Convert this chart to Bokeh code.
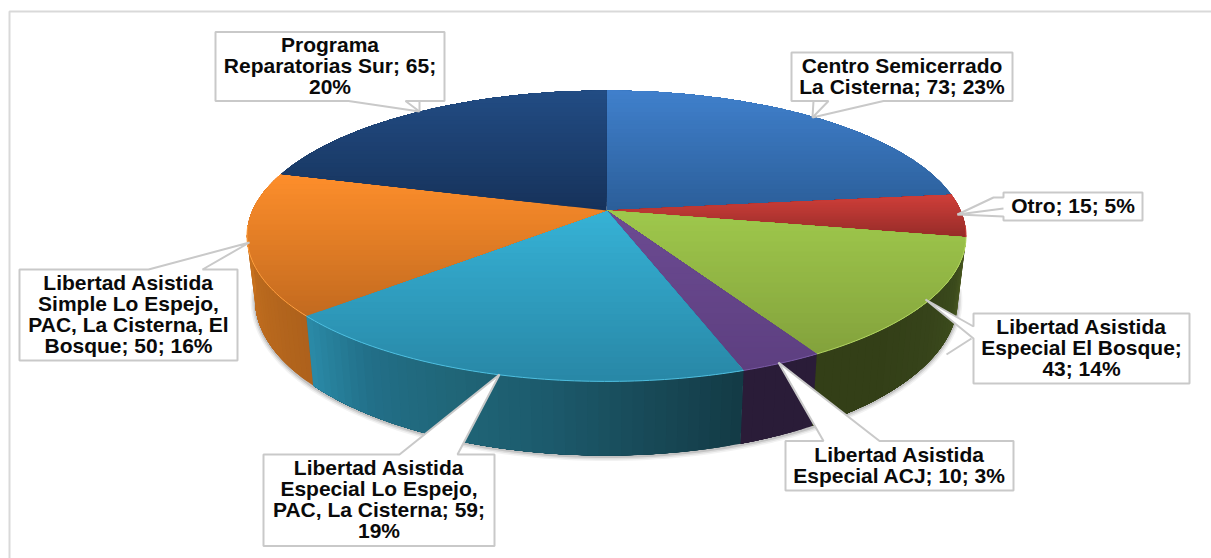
import math
from bokeh.plotting import figure
from bokeh.models import ColumnDataSource
from bokeh.core.properties import value
from bokeh.embed import file_html
from bokeh.resources import INLINE

# ---- data -------------------------------------------------------------
categories = ["Centro Semicerrado La Cisterna", "Otro", "Libertad Asistida Especial El Bosque",
              "Libertad Asistida Especial ACJ", "Libertad Asistida Especial Lo Espejo, PAC, La Cisterna",
              "Libertad Asistida Simple Lo Espejo, PAC, La Cisterna, El Bosque", "Programa Reparatorias Sur"]
values = [73, 15, 43, 10, 59, 50, 65]
label_lines = [
    ["Centro Semicerrado", "La Cisterna; 73; 23%"],
    ["Otro; 15; 5%"],
    ["Libertad Asistida", "Especial El Bosque;", "43; 14%"],
    ["Libertad Asistida", "Especial ACJ; 10; 3%"],
    ["Libertad Asistida", "Especial Lo Espejo,", "PAC, La Cisterna; 59;", "19%"],
    ["Libertad Asistida", "Simple Lo Espejo,", "PAC, La Cisterna, El", "Bosque; 50; 16%"],
    ["Programa", "Reparatorias Sur; 65;", "20%"],
]

# ---- styles -----------------------------------------------------------
top_colors = [("#4080cc", "#2b5e99"), ("#cf3f3a", "#962b28"), ("#9fc84c", "#83a23c"),
              ("#6c4b92", "#5d3f80"), ("#36b2d6", "#2887a6"), ("#fe8e2b", "#c26a1f"),
              ("#224c84", "#16325a")]
side_stops = [["#2b5e99"], ["#6e201e"], ["#4f5f24", "#3b4a1c", "#36431a", "#333f17", "#333f17"], ["#2a1c38"],
              ["#133a45", "#184a58", "#1c5a6c", "#206678", "#226f88", "#2a8ba8"], ["#ad611c", "#c8721f"], ["#16325a"]]
rim_colors = ["#4080cc", "#cf3f3a", "#b2d562", "#7a5aa5", "#4fbfe0", "#ffa040", "#224c84"]
GREY = "#c9c9c9"

# ---- layout (reference pixels) -------------------------------------------
cx, cy, Rx, Ry, k = 606, 210, 354, 141, 0.175
cy2, Rx2, Ry2 = 272, 346, 151

def top_pt(t):
    s, c = math.sin(t), math.cos(t)
    w = 1 + k * c
    return cx + Rx * s / w, cy - Ry * c / w

def bot_pt(t):
    s, c = math.sin(t), math.cos(t)
    w = 1 + k * c
    return cx + Rx2 * s / w, cy2 - Ry2 * c / w

def rgb(h):
    return [int(h[i:i + 2], 16) for i in (1, 3, 5)]

def mix(a, b, f):
    ca, cb = rgb(a), rgb(b)
    return "#%02x%02x%02x" % tuple(round(x + (y - x) * f) for x, y in zip(ca, cb))

def ramp(stops, f):
    if len(stops) == 1:
        return stops[0]
    p = f * (len(stops) - 1)
    i = min(int(p), len(stops) - 2)
    return mix(stops[i], stops[i + 1], p - i)

def clip_above(poly, Y):
    out = []
    for i in range(len(poly)):
        a, b = poly[i], poly[(i + 1) % len(poly)]
        ia, ib = a[1] <= Y, b[1] <= Y
        if ia:
            out.append(a)
        if ia != ib:
            f = (Y - a[1]) / (b[1] - a[1])
            out.append((a[0] + (b[0] - a[0]) * f, Y))
    return out

total = sum(values)
angles = [0]
for v in values:
    angles.append(angles[-1] + v / total * 2 * math.pi)

side_xs, side_ys, side_cs = [], [], []
top_xs, top_ys, top_cs = [], [], []
rim_xs, rim_ys, rim_cs = [], [], []
vis_a, vis_b = math.radians(96), math.radians(264)

for i in range(len(values)):
    a0, a1 = angles[i], angles[i + 1]
    # side wall: each strip reaches to the slice end, later ones paint over it
    s0, s1 = max(a0, vis_a), min(a1, vis_b)
    if s1 > s0:
        n = max(2, int((s1 - s0) / math.radians(1.5)))
        steps = 24
        for j in range(n):
            t0 = s0 + (s1 - s0) * j / n
            ts = [t0 + (s1 - t0) * q / steps for q in range(steps + 1)]
            q = [top_pt(t) for t in ts] + [bot_pt(t) for t in reversed(ts)]
            side_xs.append([pt[0] for pt in q])
            side_ys.append([pt[1] for pt in q])
            side_cs.append(ramp(side_stops[i], (j + .5) / n))
    # top face with a vertical gradient, painted bottom band first
    n = max(3, int((a1 - a0) / math.radians(1.0)))
    rim = [top_pt(a0 + (a1 - a0) * j / n) for j in range(n + 1)]
    poly = [(cx, cy)] + rim
    ymin, ymax = min(p[1] for p in poly), max(p[1] for p in poly)
    bands = 28
    for b in range(bands, 0, -1):
        Y = ymin + (ymax - ymin) * b / bands
        cl = clip_above(poly, Y) if b < bands else poly
        if len(cl) >= 3:
            top_xs.append([p[0] for p in cl])
            top_ys.append([p[1] for p in cl])
            top_cs.append(mix(top_colors[i][0], top_colors[i][1], (b - .5) / bands))
    # light rim on the front edge
    if s1 > s0:
        m = max(2, int((s1 - s0) / math.radians(1.0)))
        r = [top_pt(s0 + (s1 - s0) * j / m) for j in range(m + 1)]
        rim_xs.append([p[0] for p in r])
        rim_ys.append([p[1] for p in r])
        rim_cs.append(rim_colors[i])

# soft shadow beneath the wall
shadow = [bot_pt(vis_a + (vis_b - vis_a) * j / 120) for j in range(121)]

# callouts: box (l, t, r, b), its outline and extra strokes
B = {
    0: (791, 52, 1012, 100.5), 1: (1003, 192, 1142, 220), 2: (973, 313, 1189, 383),
    3: (785, 440.5, 1013, 490), 4: (263, 454, 494, 545.5), 5: (19, 269, 237, 360), 6: (215, 31.5, 444, 100.5),
}
def outline(i):
    l, t, r, b = B[i]
    if i == 0:
        return [(l, t), (r, t), (r, b), (883, b), (812, 117), (828, b), (l, b)]
    if i == 1:
        return [(l, t), (r, t), (r, b), (l, b), (l, 216), (957, 214), (993, 197), (l, 197)]
    if i == 2:
        return [(l, t), (r, t), (r, b), (l, b), (l, 338), (925, 299), (l, 326)]
    if i == 3:
        return [(l, t), (823, t), (778, 362), (879, t), (r, t), (r, b), (l, b)]
    if i == 4:
        return [(l, t), (399, t), (499, 374), (457, t), (r, t), (r, b), (l, b)]
    if i == 5:
        return [(l, t), (148, t), (249, 242), (202, t), (r, t), (r, b), (l, b)]
    return [(l, t), (r, t), (r, b), (405, b), (419, 111), (348, b), (l, b)]

box_xs = [[p[0] for p in outline(i)] for i in range(7)]
box_ys = [[p[1] for p in outline(i)] for i in range(7)]
extra_x = [[813, 812], [957, 1003], [971, 946], [419, 419]]
extra_y = [[100.5, 117], [214, 208], [338, 354], [100.5, 111]]

LH = 21
tx, ty, tt = [], [], []
for i, lines in enumerate(label_lines):
    l, t, r, b = B[i]
    mx, my = (l + r) / 2, (t + b) / 2 - 0.8
    for j, s in enumerate(lines):
        tx.append(mx)
        ty.append(my + (j - (len(lines) - 1) / 2) * LH)
        tt.append(s)

# ---- figure -----------------------------------------------------------
p = figure(width=1211, height=558, x_range=(0, 1211), y_range=(558, 0),
           output_backend="svg", toolbar_location=None, min_border=0,
           background_fill_color="white", border_fill_color="white", outline_line_color=None)
p.axis.visible = False
p.grid.visible = False

p.multi_line(xs=[[9, 9, 1211]], ys=[[558, 11, 11]], line_color="#d9d9d9", line_width=2)

for off, wid, alp in [(1, 9, .05), (1, 6, .08), (1, 3, .12)]:
    p.line([q[0] for q in shadow], [q[1] + off for q in shadow], line_color="#000000", line_width=wid, line_alpha=alp)

p.patches("xs", "ys", source=ColumnDataSource(dict(xs=side_xs, ys=side_ys, c=side_cs)),
          fill_color="c", line_color=None)
p.patches("xs", "ys", source=ColumnDataSource(dict(xs=top_xs, ys=top_ys, c=top_cs)),
          fill_color="c", line_color=None)
p.multi_line("xs", "ys", source=ColumnDataSource(dict(xs=rim_xs, ys=rim_ys, c=rim_cs)),
             line_color="c", line_width=1.0)

p.patches(box_xs, box_ys, fill_color="white", line_color=GREY, line_width=2)
p.multi_line(extra_x, extra_y, line_color=GREY, line_width=2)

p.text(x="x", y="y", text="t", source=ColumnDataSource(dict(x=tx, y=ty, t=tt)),
       text_font=value("Liberation Sans"), text_font_style="bold", text_font_size="21px",
       text_color="#0a0a0a", text_align="center", text_baseline="middle")

open("out.html", "w").write(file_html(p, INLINE))
